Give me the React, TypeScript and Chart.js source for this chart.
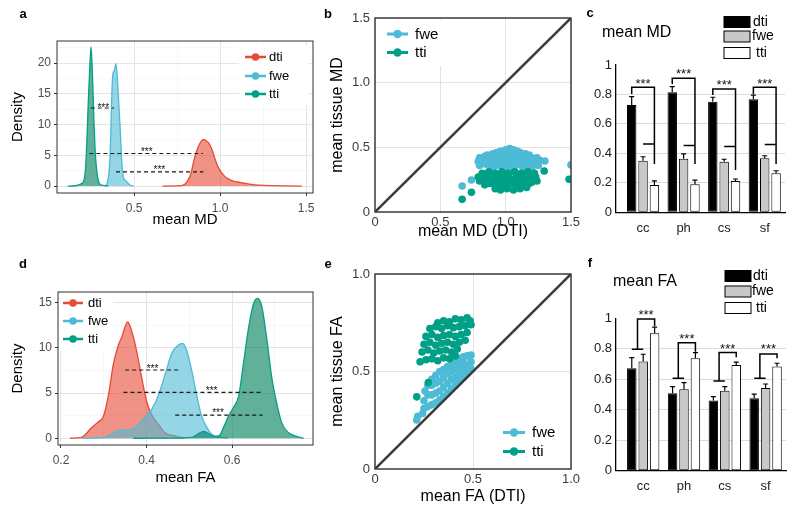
import React, { useEffect, useRef } from "react";
import { Chart, registerables } from "chart.js";

Chart.register(...registerables);

const FONT = "'Liberation Sans', Arial, Helvetica, sans-serif";
Chart.defaults.font.family = FONT;

const W = 800;
const H = 510;

const RED = "#E64B35";
const BLUE = "#4DBBD5";
const GREEN = "#00A087";
const RED_FILL = "rgba(230,75,53,0.6)";
const BLUE_FILL = "rgba(77,187,213,0.6)";
const GREEN_FILL = "rgba(0,128,92,0.62)";
const seriesNames = ["dti", "fwe", "tti"];

// ---------------- panel a : density of mean MD ----------------
const mdDtiX = [0.665, 0.75, 0.79, 0.81, 0.83, 0.85, 0.875, 0.903, 0.915, 0.932, 0.952, 0.971, 0.99, 1.02, 1.049, 1.077, 1.116, 1.155, 1.2, 1.25, 1.3, 1.4, 1.475];
const mdDtiY = [0, 0.02, 0.2, 0.8, 2.0, 4.4, 6.5, 7.6, 7.45, 7.05, 6.0, 4.35, 3.0, 1.77, 1.13, 0.8, 0.6, 0.38, 0.2, 0.12, 0.06, 0.02, 0];
const mdFweX = [0.33, 0.341, 0.351, 0.36, 0.366, 0.372, 0.378, 0.386, 0.394, 0.4, 0.405, 0.412, 0.419, 0.424, 0.428, 0.438, 0.447, 0.457, 0.471, 0.485, 0.497];
const mdFweY = [0, 0.3, 1.5, 4.5, 10, 16, 18.4, 18.8, 19.9, 18.5, 16.5, 13, 9.5, 6.5, 4.1, 1.4, 1.0, 0.7, 0.3, 0.05, 0];
const mdTtiX = [0.114, 0.16, 0.196, 0.215, 0.225, 0.234, 0.242, 0.25, 0.258, 0.266, 0.273, 0.283, 0.297, 0.322, 0.35];
const mdTtiY = [0, 0.05, 0.4, 1.9, 6.8, 13.8, 19.1, 22.6, 18.1, 11.1, 6.2, 2.5, 0.5, 0.1, 0];
const mdDashFrom = [0.248, 0.24, 0.395];
const mdDashTo = [0.384, 0.9, 0.903];
const mdDashY = [12.7, 5.3, 2.3];
const mdStarX = [0.321, 0.574, 0.647];
const mdStarY = [13.2, 6.0, 3.0];

// ---------------- panel d : density of mean FA ----------------
const faDtiX = [0.221, 0.248, 0.272, 0.287, 0.299, 0.311, 0.322, 0.334, 0.342, 0.356, 0.365, 0.377, 0.389, 0.4, 0.412, 0.428, 0.443, 0.467, 0.486];
const faDtiY = [0, 0.1, 1.2, 1.8, 2.4, 4.8, 8.1, 10.3, 11.2, 12.9, 11.9, 9.6, 6.6, 4.1, 2.6, 1.5, 0.6, 0.25, 0];
const faFweX = [0.248, 0.303, 0.322, 0.334, 0.357, 0.377, 0.396, 0.412, 0.428, 0.443, 0.459, 0.474, 0.484, 0.494, 0.506, 0.517, 0.529, 0.541, 0.552, 0.568, 0.591];
const faFweY = [0, 0.1, 0.6, 0.9, 0.9, 1.35, 2.3, 3.2, 4.8, 7.0, 9.4, 10.3, 10.5, 9.7, 7.4, 4.8, 2.4, 1.2, 0.45, 0.15, 0];
const faTtiX = [0.369, 0.45, 0.506, 0.521, 0.533, 0.545, 0.56, 0.57, 0.58, 0.591, 0.603, 0.615, 0.626, 0.638, 0.65, 0.659, 0.669, 0.681, 0.693, 0.705, 0.716, 0.732, 0.747, 0.767];
const faTtiY = [0, 0.02, 0.1, 0.5, 0.75, 0.5, 0.2, 0.3, 1.2, 2.4, 3.4, 4.6, 8.1, 12.1, 14.9, 15.5, 14.7, 11.0, 6.6, 3.7, 1.7, 0.6, 0.25, 0];
const faDashFrom = [0.35, 0.346, 0.467];
const faDashTo = [0.481, 0.671, 0.671];
const faDashY = [7.56, 5.07, 2.55];
const faStarX = [0.414, 0.552, 0.567];
const faStarY = [8.0, 5.55, 3.07];

// ---------------- panel b : tissue MD vs DTI MD ----------------
const mdFwePts: [number, number][] = [
  [0.96, 0.47], [1.0, 0.48], [1.03, 0.49], [1.06, 0.48], [1.09, 0.47],
  [0.86, 0.44], [0.9, 0.45], [0.93, 0.46], [0.98, 0.45], [1.02, 0.46], [1.07, 0.45], [1.11, 0.46], [1.15, 0.45], [1.18, 0.44],
  [0.8, 0.42], [0.84, 0.43], [0.88, 0.42], [0.92, 0.43], [0.96, 0.42], [1.0, 0.43], [1.04, 0.42], [1.08, 0.43], [1.12, 0.42], [1.16, 0.43], [1.2, 0.42], [1.24, 0.42],
  [0.79, 0.39], [0.83, 0.4], [0.87, 0.38], [0.91, 0.39], [0.95, 0.4], [0.99, 0.38], [1.03, 0.39], [1.07, 0.4], [1.11, 0.38], [1.15, 0.39], [1.19, 0.4], [1.23, 0.38], [1.26, 0.4],
  [0.8, 0.36], [0.85, 0.37], [0.89, 0.35], [0.93, 0.36], [0.97, 0.37], [1.01, 0.35], [1.05, 0.36], [1.09, 0.37], [1.13, 0.35], [1.17, 0.36], [1.21, 0.37], [1.25, 0.36],
  [0.9, 0.33], [0.98, 0.33], [1.06, 0.33], [1.14, 0.33], [1.2, 0.34],
  [0.667, 0.201], [0.738, 0.247], [1.3, 0.394], [1.5, 0.364],
];
const mdTtiPts: [number, number][] = [
  [0.82, 0.3], [0.87, 0.31], [0.92, 0.3], [0.97, 0.31], [1.02, 0.3], [1.07, 0.31], [1.12, 0.3], [1.17, 0.31], [1.22, 0.3],
  [0.79, 0.27], [0.84, 0.28], [0.88, 0.26], [0.93, 0.27], [0.98, 0.28], [1.03, 0.26], [1.08, 0.27], [1.13, 0.28], [1.18, 0.26], [1.23, 0.27],
  [0.8, 0.24], [0.85, 0.25], [0.9, 0.23], [0.95, 0.24], [1.0, 0.25], [1.05, 0.23], [1.1, 0.24], [1.15, 0.25], [1.2, 0.23], [1.24, 0.24],
  [0.84, 0.21], [0.88, 0.22], [0.93, 0.2], [0.98, 0.21], [1.03, 0.22], [1.08, 0.2], [1.13, 0.21], [1.18, 0.22],
  [0.92, 0.18], [0.96, 0.17], [1.01, 0.18], [1.06, 0.17], [1.11, 0.18], [1.16, 0.19],
  [0.667, 0.098], [0.738, 0.152], [1.295, 0.317], [1.485, 0.253],
];
const mdIdentity = [0, 1.5];

// ---------------- panel e : tissue FA vs DTI FA ----------------
const faFwePts: [number, number][] = [
  [0.213, 0.251], [0.218, 0.27], [0.243, 0.285],
  [0.25, 0.31], [0.25, 0.35], [0.255, 0.4],
  [0.27, 0.32], [0.27, 0.38], [0.27, 0.43],
  [0.29, 0.33], [0.29, 0.38], [0.29, 0.43], [0.29, 0.46],
  [0.31, 0.34], [0.31, 0.39], [0.31, 0.44], [0.31, 0.48],
  [0.33, 0.355], [0.33, 0.4], [0.33, 0.45], [0.33, 0.5],
  [0.35, 0.37], [0.35, 0.42], [0.35, 0.47], [0.35, 0.51],
  [0.37, 0.39], [0.37, 0.44], [0.37, 0.49], [0.37, 0.525],
  [0.39, 0.41], [0.39, 0.46], [0.39, 0.5], [0.39, 0.535],
  [0.41, 0.43], [0.41, 0.47], [0.41, 0.51], [0.41, 0.55],
  [0.43, 0.45], [0.43, 0.49], [0.43, 0.53], [0.43, 0.565],
  [0.45, 0.47], [0.45, 0.51], [0.45, 0.55], [0.45, 0.575],
  [0.47, 0.49], [0.47, 0.53], [0.47, 0.58],
  [0.49, 0.515], [0.49, 0.55], [0.49, 0.585],
];
const faTtiPts: [number, number][] = [
  [0.32, 0.75], [0.35, 0.76], [0.38, 0.755], [0.41, 0.77], [0.44, 0.765], [0.47, 0.775], [0.485, 0.76],
  [0.28, 0.72], [0.31, 0.73], [0.34, 0.72], [0.37, 0.735], [0.4, 0.725], [0.43, 0.73], [0.46, 0.735], [0.49, 0.74],
  [0.26, 0.68], [0.29, 0.69], [0.32, 0.675], [0.35, 0.685], [0.38, 0.69], [0.41, 0.68], [0.44, 0.69], [0.47, 0.7],
  [0.25, 0.64], [0.28, 0.65], [0.31, 0.635], [0.34, 0.645], [0.37, 0.65], [0.4, 0.64], [0.43, 0.65], [0.46, 0.66],
  [0.24, 0.6], [0.27, 0.61], [0.3, 0.595], [0.33, 0.605], [0.36, 0.61], [0.39, 0.6], [0.42, 0.615],
  [0.23, 0.55], [0.26, 0.56], [0.29, 0.565], [0.32, 0.555], [0.35, 0.57], [0.38, 0.565], [0.41, 0.58],
  [0.213, 0.37], [0.272, 0.443],
];
const faIdentity = [0, 1.0];

// ---------------- panels c, f : bars ----------------
const regions = ["cc", "ph", "cs", "sf"];
const regionPos = [1, 2, 3, 4];

const mdBarDti = [0.728, 0.815, 0.751, 0.767];
const mdBarFwe = [0.35, 0.364, 0.344, 0.367];
const mdBarTti = [0.185, 0.19, 0.212, 0.265];
const mdErrDti = [0.057, 0.038, 0.03, 0.029];
const mdErrFwe = [0.027, 0.032, 0.016, 0.017];
const mdErrTti = [0.028, 0.029, 0.014, 0.017];
const mdBrTop = [0.849, 0.91, 0.837, 0.849];
const mdBrLeft = [0.803, 0.871, 0.796, 0.803];
const mdBrRight = [0.328, 0.328, 0.287, 0.328];
const mdBrMid = [0.464, 0.453, 0.446, 0.46];
const mdBrStar = [0.898, 0.961, 0.886, 0.898];

const faBarDti = [0.672, 0.508, 0.46, 0.475];
const faBarFwe = [0.716, 0.534, 0.525, 0.543];
const faBarTti = [0.902, 0.738, 0.694, 0.683];
const faErrDti = [0.07, 0.044, 0.026, 0.027];
const faErrFwe = [0.048, 0.044, 0.027, 0.026];
const faErrTti = [0.04, 0.037, 0.018, 0.022];
const faBrTop = [0.996, 0.84, 0.775, 0.766];
const faBrMid = [0.797, 0.607, 0.589, 0.607];
const faBrRight = [0.95, 0.78, 0.745, 0.738];
const faBrStar = [1.044, 0.885, 0.825, 0.82];

// ---------------- helpers ----------------
const zip = (xs: number[], ys: number[]) => xs.map((x, i) => ({ x, y: ys[i] }));
const pts = (p: [number, number][]) => p.map(([x, y]) => ({ x, y }));
const near = (a: number, b: number) => Math.abs(a - b) < 1e-9;
const hasVal = (arr: number[], v: number) => arr.some((a) => near(a, v));
const tv = (ctx: any) => (ctx && ctx.tick ? ctx.tick.value : NaN);

type Area = { l: number; r: number; t: number; b: number };

function fixSize(size: number) {
  return (s: any) => {
    if (s.isHorizontal()) s.height = size;
    else s.width = size;
    s.paddingLeft = 0;
    s.paddingRight = 0;
    s.paddingTop = 0;
    s.paddingBottom = 0;
  };
}
function setTicks(values: number[]) {
  return (s: any) => {
    s.ticks = values.map((v) => ({ value: v }));
  };
}
function layoutFor(a: Area, yw: number, xh: number) {
  return { padding: { left: a.l - yw, right: W - a.r, top: a.t, bottom: H - a.b - xh } };
}

function boxPlugin(color: string, width: number) {
  return {
    id: "box",
    afterDraw(chart: any) {
      const { ctx, chartArea: a } = chart;
      ctx.save();
      ctx.strokeStyle = color;
      ctx.lineWidth = width;
      ctx.strokeRect(a.left, a.top, a.right - a.left, a.bottom - a.top);
      ctx.restore();
    },
  };
}
function letterPlugin(letter: string, x: number, y: number) {
  return {
    id: "letter",
    afterDraw(chart: any) {
      const ctx = chart.ctx;
      ctx.save();
      ctx.font = `bold 13px ${FONT}`;
      ctx.fillStyle = "#000";
      ctx.textAlign = "center";
      ctx.textBaseline = "middle";
      ctx.fillText(letter, x, y);
      ctx.restore();
    },
  };
}
function starPlugin(xs: number[], ys: number[], size: number) {
  return {
    id: "stars",
    afterDatasetsDraw(chart: any) {
      const { ctx, scales } = chart;
      ctx.save();
      ctx.font = `${size}px ${FONT}`;
      ctx.fillStyle = "#111";
      ctx.textAlign = "center";
      ctx.textBaseline = "alphabetic";
      xs.forEach((x, i) => {
        ctx.fillText("***", scales.x.getPixelForValue(x), scales.y.getPixelForValue(ys[i]) + size * 0.58);
      });
      ctx.restore();
    },
  };
}
function lineLegendPlugin(p: {
  colors: string[];
  x1: number;
  x2: number;
  textX: number;
  ys: number[];
  size: number;
  lineW: number;
  r: number;
  bg?: [number, number, number, number];
}) {
  return {
    id: "lineLegend",
    afterDraw(chart: any) {
      const ctx = chart.ctx;
      ctx.save();
      if (p.bg) {
        ctx.fillStyle = "#fff";
        ctx.fillRect(p.bg[0], p.bg[1], p.bg[2], p.bg[3]);
      }
      p.ys.forEach((y, i) => {
        ctx.strokeStyle = p.colors[i];
        ctx.fillStyle = p.colors[i];
        ctx.lineWidth = p.lineW;
        ctx.beginPath();
        ctx.moveTo(p.x1, y);
        ctx.lineTo(p.x2, y);
        ctx.stroke();
        ctx.beginPath();
        ctx.arc((p.x1 + p.x2) / 2, y, p.r, 0, Math.PI * 2);
        ctx.fill();
        ctx.fillStyle = "#000";
        ctx.font = `${p.size}px ${FONT}`;
        ctx.textAlign = "left";
        ctx.textBaseline = "middle";
        ctx.fillText(chart.data.datasets[i].label, p.textX, y + 0.5);
      });
      ctx.restore();
    },
  };
}

// ---------------- density panels ----------------
function densityConfig(p: any) {
  const curves = [
    { label: seriesNames[0], color: RED, fill: RED_FILL, xs: p.dtiX, ys: p.dtiY },
    { label: seriesNames[1], color: BLUE, fill: BLUE_FILL, xs: p.fweX, ys: p.fweY },
    { label: seriesNames[2], color: GREEN, fill: GREEN_FILL, xs: p.ttiX, ys: p.ttiY },
  ];
  const datasets: any[] = curves.map((c, i) => ({
    type: "line",
    label: c.label,
    data: zip(c.xs, c.ys),
    borderColor: c.color,
    backgroundColor: c.fill,
    borderWidth: 1.3,
    fill: "origin",
    pointRadius: 0,
    cubicInterpolationMode: "monotone",
    order: 10 - i,
  }));
  p.dashY.forEach((y: number, i: number) =>
    datasets.push({
      type: "line",
      label: "sig" + i,
      data: [
        { x: p.dashFrom[i], y },
        { x: p.dashTo[i], y },
      ],
      borderColor: "#1a1a1a",
      borderWidth: 1.2,
      borderDash: [4, 3],
      pointRadius: 0,
      fill: false,
      order: 0,
    })
  );
  const xTicks = [...p.xMajor, ...p.xMinor].sort((a: number, b: number) => a - b);
  const yTicks = [...p.yMajor, ...p.yMinor].sort((a: number, b: number) => a - b);
  const grid = (major: number[]) => ({
    color: (ctx: any) => (hasVal(major, tv(ctx)) ? "#E4E4E4" : "#F1F1F1"),
    lineWidth: (ctx: any) => (hasVal(major, tv(ctx)) ? 1 : 0.6),
    tickColor: (ctx: any) => (hasVal(major, tv(ctx)) ? "#333333" : "rgba(0,0,0,0)"),
    tickWidth: 1,
    tickLength: 3,
    drawTicks: true,
  });
  return {
    type: "line",
    data: { datasets },
    options: {
      responsive: false,
      animation: false,
      devicePixelRatio: 1,
      layout: layoutFor(p.area, p.yw, p.xh),
      plugins: { legend: { display: false }, tooltip: { enabled: false } },
      scales: {
        x: {
          type: "linear",
          min: p.xMin,
          max: p.xMax,
          afterBuildTicks: setTicks(xTicks),
          afterFit: fixSize(p.xh),
          ticks: {
            callback: (v: number) => (hasVal(p.xMajor, v) ? v.toFixed(1) : ""),
            color: "#4D4D4D",
            font: { size: 12 },
            padding: 5,
            autoSkip: false,
            maxRotation: 0,
          },
          grid: grid(p.xMajor),
          border: { display: false },
          title: { display: true, text: p.xTitle, color: "#000", font: { size: 15 }, padding: 0 },
        },
        y: {
          type: "linear",
          min: p.yMin,
          max: p.yMax,
          afterBuildTicks: setTicks(yTicks),
          afterFit: fixSize(p.yw),
          ticks: {
            callback: (v: number) => (hasVal(p.yMajor, v) ? String(v) : ""),
            color: "#4D4D4D",
            font: { size: 12 },
            padding: 3,
            autoSkip: false,
          },
          grid: grid(p.yMajor),
          border: { display: false },
          title: { display: true, text: "Density", color: "#000", font: { size: 15 }, padding: 0 },
        },
      },
    },
    plugins: [
      starPlugin(p.starX, p.starY, 10),
      boxPlugin("#333333", 1),
      lineLegendPlugin(p.legend),
      letterPlugin(p.letter[0], p.letter[1], p.letter[2]),
    ],
  };
}

const buildA = () =>
  densityConfig({
    area: { l: 57, r: 313, t: 41, b: 193 },
    yw: 48,
    xh: 36,
    xMin: 0.052,
    xMax: 1.54,
    yMin: -1.13,
    yMax: 23.6,
    xMajor: [0.5, 1.0, 1.5],
    xMinor: [0.25, 0.75, 1.25],
    yMajor: [0, 5, 10, 15, 20],
    yMinor: [2.5, 7.5, 12.5, 17.5, 22.5],
    xTitle: "mean MD",
    dtiX: mdDtiX, dtiY: mdDtiY, fweX: mdFweX, fweY: mdFweY, ttiX: mdTtiX, ttiY: mdTtiY,
    dashFrom: mdDashFrom, dashTo: mdDashTo, dashY: mdDashY,
    starX: mdStarX, starY: mdStarY,
    legend: { colors: [RED, BLUE, GREEN], x1: 245, x2: 266, textX: 269, ys: [57, 76, 94], size: 13, lineW: 2.5, r: 3.8, bg: [239, 45, 70, 60] },
    letter: ["a", 23, 14],
  });

const buildD = () =>
  densityConfig({
    area: { l: 58, r: 313, t: 292, b: 445 },
    yw: 49,
    xh: 42,
    xMin: 0.193,
    xMax: 0.789,
    yMin: -0.75,
    yMax: 16.2,
    xMajor: [0.2, 0.4, 0.6],
    xMinor: [0.3, 0.5, 0.7],
    yMajor: [0, 5, 10, 15],
    yMinor: [2.5, 7.5, 12.5],
    xTitle: "mean FA",
    dtiX: faDtiX, dtiY: faDtiY, fweX: faFweX, fweY: faFweY, ttiX: faTtiX, ttiY: faTtiY,
    dashFrom: faDashFrom, dashTo: faDashTo, dashY: faDashY,
    starX: faStarX, starY: faStarY,
    legend: { colors: [RED, BLUE, GREEN], x1: 63, x2: 83, textX: 88, ys: [303, 321, 339], size: 13, lineW: 2.5, r: 3.8, bg: [59, 293, 54, 58] },
    letter: ["d", 23, 264],
  });

// ---------------- scatter panels ----------------
function scatterConfig(p: any) {
  const max = p.identity[1];
  const datasets: any[] = [
    { type: "scatter", label: "fwe", data: pts(p.fwe), backgroundColor: BLUE, borderWidth: 0, pointRadius: 3.8, order: 2 },
    { type: "scatter", label: "tti", data: pts(p.tti), backgroundColor: GREEN, borderWidth: 0, pointRadius: 3.8, order: 1 },
    {
      type: "line",
      label: "identity",
      data: zip(p.identity, p.identity),
      borderColor: "#3a3a3a",
      borderWidth: 2.5,
      pointRadius: 0,
      fill: false,
      order: 0,
    },
  ];
  const grid = {
    color: (ctx: any) => {
      const v = tv(ctx);
      return near(v, 0) || near(v, max) ? "rgba(0,0,0,0)" : "#E2E2E2";
    },
    lineWidth: 1,
    drawTicks: false,
  };
  const fmt = (v: number) => (near(v, 0) ? "0" : v.toFixed(1));
  return {
    type: "scatter",
    data: { datasets },
    options: {
      responsive: false,
      animation: false,
      devicePixelRatio: 1,
      layout: layoutFor(p.area, p.yw, p.xh),
      plugins: { legend: { display: false }, tooltip: { enabled: false } },
      scales: {
        x: {
          type: "linear",
          min: 0,
          max,
          afterBuildTicks: setTicks(p.ticks),
          afterFit: fixSize(p.xh),
          ticks: { callback: fmt, color: "#3b3b3b", font: { size: 13 }, padding: 3, autoSkip: false, maxRotation: 0 },
          grid,
          border: { display: false },
          title: { display: true, text: p.xTitle, color: "#000", font: { size: 16 }, padding: 0 },
        },
        y: {
          type: "linear",
          min: 0,
          max,
          afterBuildTicks: setTicks(p.ticks),
          afterFit: fixSize(p.yw),
          ticks: { callback: fmt, color: "#3b3b3b", font: { size: 13 }, padding: 5, autoSkip: false },
          grid,
          border: { display: false },
          title: { display: true, text: p.yTitle, color: "#000", font: { size: 16 }, padding: 0 },
        },
      },
    },
    plugins: [
      boxPlugin("#3a3a3a", 1.5),
      lineLegendPlugin(p.legend),
      letterPlugin(p.letter[0], p.letter[1], p.letter[2]),
    ],
  };
}

const buildB = () =>
  scatterConfig({
    area: { l: 375, r: 571, t: 18, b: 212 },
    yw: 46.6,
    xh: 29.6,
    fwe: mdFwePts,
    tti: mdTtiPts,
    identity: mdIdentity,
    ticks: [0, 0.5, 1.0, 1.5],
    xTitle: "mean MD (DTI)",
    yTitle: "mean tissue MD",
    legend: { colors: [BLUE, GREEN], x1: 387, x2: 408, textX: 415, ys: [34, 52.5], size: 15, lineW: 3, r: 4.2, bg: [377, 20, 72, 46] },
    letter: ["b", 328, 14],
  });

const buildE = () =>
  scatterConfig({
    area: { l: 375, r: 571, t: 274, b: 469 },
    yw: 46.6,
    xh: 37.6,
    fwe: faFwePts,
    tti: faTtiPts,
    identity: faIdentity,
    ticks: [0, 0.5, 1.0],
    xTitle: "mean FA (DTI)",
    yTitle: "mean tissue FA",
    legend: { colors: [BLUE, GREEN], x1: 503, x2: 525, textX: 532, ys: [432.5, 451.5], size: 15, lineW: 3, r: 4.2, bg: [497, 420, 72, 46] },
    letter: ["e", 328, 264],
  });

// ---------------- bar panels ----------------
function barConfig(p: any) {
  const fills = ["#000000", "#C8C8C8", "#FFFFFF"];
  const datasets = [p.dti, p.fwe, p.tti].map((vals: number[], i: number) => ({
    type: "bar",
    label: seriesNames[i],
    data: zip(regionPos, vals),
    backgroundColor: fills[i],
    borderColor: "#000",
    borderWidth: 1,
    borderSkipped: false,
    categoryPercentage: 0.84,
    barPercentage: 0.83,
  }));
  const errs = [p.eDti, p.eFwe, p.eTti];
  const vals = [p.dti, p.fwe, p.tti];
  const decor = {
    id: "decor",
    afterDatasetsDraw(chart: any) {
      const { ctx, scales } = chart;
      const py = (v: number) => scales.y.getPixelForValue(v);
      ctx.save();
      ctx.strokeStyle = "#000";
      ctx.lineWidth = 1.2;
      for (let d = 0; d < 3; d++) {
        const meta = chart.getDatasetMeta(d);
        meta.data.forEach((bar: any, i: number) => {
          const y0 = py(vals[d][i]);
          const y1 = py(vals[d][i] + errs[d][i]);
          ctx.beginPath();
          ctx.moveTo(bar.x, y0);
          ctx.lineTo(bar.x, y1);
          ctx.moveTo(bar.x - 2.5, y1);
          ctx.lineTo(bar.x + 2.5, y1);
          ctx.stroke();
        });
      }
      ctx.lineWidth = 1.5;
      const m0 = chart.getDatasetMeta(0).data;
      const m1 = chart.getDatasetMeta(1).data;
      const m2 = chart.getDatasetMeta(2).data;
      ctx.font = `13px ${FONT}`;
      ctx.textAlign = "center";
      ctx.textBaseline = "alphabetic";
      ctx.fillStyle = "#111";
      regions.forEach((_, i) => {
        const xd = m0[i].x;
        const xf = m1[i].x;
        const xt = m2[i].x;
        ctx.beginPath();
        let sx: number;
        if (p.style === "md") {
          ctx.moveTo(xd, py(p.brLeft[i]));
          ctx.lineTo(xd, py(p.brTop[i]));
          ctx.lineTo(xt, py(p.brTop[i]));
          ctx.lineTo(xt, py(p.brRight[i]));
          ctx.moveTo(xf, py(p.brMid[i]));
          ctx.lineTo(xt, py(p.brMid[i]));
          sx = (xd + xt) / 2;
        } else {
          const xm = (xd + xf) / 2;
          ctx.moveTo(xd, py(p.brMid[i]));
          ctx.lineTo(xf, py(p.brMid[i]));
          ctx.moveTo(xm, py(p.brMid[i]));
          ctx.lineTo(xm, py(p.brTop[i]));
          ctx.lineTo(xt, py(p.brTop[i]));
          ctx.lineTo(xt, py(p.brRight[i]));
          sx = (xm + xt) / 2;
        }
        ctx.stroke();
        ctx.fillText("***", sx, py(p.brStar[i]) + 13 * 0.58);
      });
      ctx.restore();
    },
    afterDraw(chart: any) {
      const ctx = chart.ctx;
      ctx.save();
      ctx.fillStyle = "#000";
      ctx.font = `16px ${FONT}`;
      ctx.textAlign = "left";
      ctx.textBaseline = "middle";
      ctx.fillText(p.title, p.titlePos[0], p.titlePos[1]);
      ctx.font = `14px ${FONT}`;
      p.legendYs.forEach((y: number, i: number) => {
        ctx.fillStyle = fills[i];
        ctx.fillRect(p.legendX, y - 5.5, 26, 11);
        ctx.strokeStyle = "#000";
        ctx.lineWidth = 1;
        ctx.strokeRect(p.legendX, y - 5.5, 26, 11);
        ctx.fillStyle = "#000";
        ctx.fillText(seriesNames[i], p.legendTextX[i], y);
      });
      ctx.restore();
    },
  };
  return {
    type: "bar",
    data: { datasets },
    options: {
      responsive: false,
      animation: false,
      devicePixelRatio: 1,
      layout: layoutFor(p.area, 40, 30),
      plugins: { legend: { display: false }, tooltip: { enabled: false } },
      scales: {
        x: {
          type: "linear",
          offset: false,
          min: 0.333,
          max: 4.5,
          afterBuildTicks: setTicks(regionPos),
          afterFit: fixSize(30),
          ticks: {
            callback: (v: number) => regions[Math.round(v) - 1],
            color: "#222",
            font: { size: 13 },
            padding: 8,
            autoSkip: false,
            maxRotation: 0,
          },
          grid: { display: false, offset: false, drawTicks: false },
          border: { display: true, color: "#000", width: 1.3 },
        },
        y: {
          type: "linear",
          min: 0,
          max: 1,
          afterBuildTicks: setTicks([0, 0.2, 0.4, 0.6, 0.8, 1]),
          afterFit: fixSize(40),
          ticks: {
            callback: (v: number) => (near(v, 0) ? "0" : near(v, 1) ? "1" : v.toFixed(1)),
            color: "#222",
            font: { size: 13 },
            padding: 4,
            autoSkip: false,
          },
          grid: {
            color: (ctx: any) => {
              const v = tv(ctx);
              return v > 0.01 && v < 0.99 ? "#DCDCDC" : "rgba(0,0,0,0)";
            },
            lineWidth: 1,
            drawTicks: false,
          },
          border: { display: true, color: "#000", width: 1.3 },
        },
      },
    },
    plugins: [decor, letterPlugin(p.letter[0], p.letter[1], p.letter[2])],
  };
}

const buildC = () =>
  barConfig({
    area: { l: 616, r: 785, t: 65, b: 212.3 },
    dti: mdBarDti, fwe: mdBarFwe, tti: mdBarTti,
    eDti: mdErrDti, eFwe: mdErrFwe, eTti: mdErrTti,
    style: "md",
    brTop: mdBrTop, brLeft: mdBrLeft, brRight: mdBrRight, brMid: mdBrMid, brStar: mdBrStar,
    title: "mean MD",
    titlePos: [602, 33],
    legendX: 724,
    legendYs: [22, 36.5, 53],
    legendTextX: [753, 752, 756],
    letter: ["c", 590, 13],
  });

const buildF = () =>
  barConfig({
    area: { l: 616, r: 786, t: 318.3, b: 470.7 },
    dti: faBarDti, fwe: faBarFwe, tti: faBarTti,
    eDti: faErrDti, eFwe: faErrFwe, eTti: faErrTti,
    style: "fa",
    brTop: faBrTop, brLeft: [], brRight: faBrRight, brMid: faBrMid, brStar: faBrStar,
    title: "mean FA",
    titlePos: [613, 282],
    legendX: 725,
    legendYs: [276, 291.5, 308],
    legendTextX: [753, 752, 756],
    letter: ["f", 590, 263],
  });

function Panel({ build }: { build: () => any }) {
  const ref = useRef<HTMLCanvasElement>(null);
  useEffect(() => {
    const chart = new Chart(ref.current as HTMLCanvasElement, build());
    return () => chart.destroy();
  }, [build]);
  return (
    <canvas
      ref={ref}
      width={W}
      height={H}
      style={{ position: "absolute", left: 0, top: 0, width: W, height: H }}
    />
  );
}

export default function App() {
  return (
    <div
      style={{
        position: "fixed",
        left: 0,
        top: 0,
        width: W,
        height: H,
        background: "#fff",
        overflow: "hidden",
      }}
    >
      <Panel build={buildA} />
      <Panel build={buildB} />
      <Panel build={buildC} />
      <Panel build={buildD} />
      <Panel build={buildE} />
      <Panel build={buildF} />
    </div>
  );
}
